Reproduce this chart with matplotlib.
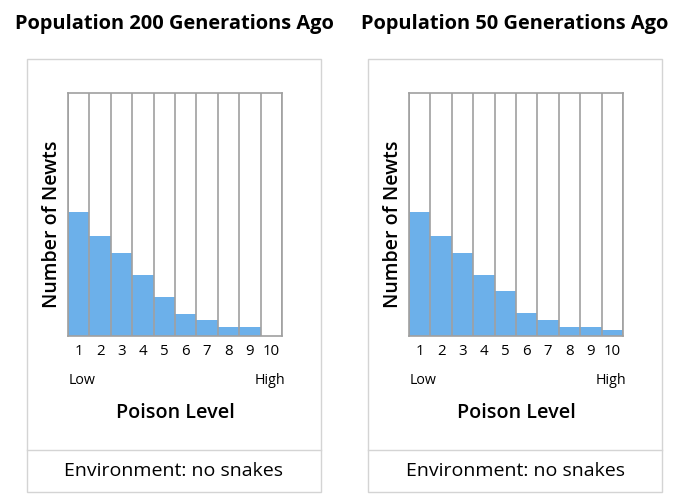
import matplotlib
matplotlib.use("Agg")
import matplotlib.pyplot as plt
from matplotlib.patches import Rectangle
from matplotlib.lines import Line2D

plt.rcParams['font.family'] = ['Open Sans', 'DejaVu Sans']

levels = [1, 2, 3, 4, 5, 6, 7, 8, 9, 10]
newts_200 = [51, 41, 34, 25, 16, 9, 6.5, 3.8, 3.6, 0]
newts_50 = [51, 41, 34, 25, 18.5, 9.3, 6.6, 3.7, 3.7, 2.5]
titles = ["Population 200 Generations Ago", "Population 50 Generations Ago"]
series = [newts_200, newts_50]
env_label = "Environment: no snakes"

W, H = 678, 500
fig = plt.figure(figsize=(W / 100, H / 100), dpi=100)

bar_color = '#6cb0ea'
edge = '#a0a0a0'
box_col = '#d4d4d4'

def fx(px):
    return px / W

def fy(py):
    return 1 - py / H

box_left = [27, 368]
box_w = 294
plot_left = [68, 409]

for i in range(2):
    bl = box_left[i]
    cx = bl + box_w / 2
    # outer box
    fig.patches.append(Rectangle((fx(bl), fy(492)), box_w / W, (492 - 59) / H,
                                 transform=fig.transFigure, fill=False,
                                 edgecolor=box_col, lw=1))
    fig.lines.append(Line2D([fx(bl), fx(bl + box_w)], [fy(450), fy(450)],
                            transform=fig.transFigure, color=box_col, lw=1))
    fig.text(fx(cx), fy(24), titles[i], ha='center', va='center',
             fontsize=14.4, fontweight='bold')

    ax = fig.add_axes([fx(plot_left[i]), fy(336), 214 / W, 243 / H])
    ax.bar(levels, series[i], width=1, color=bar_color, edgecolor='none')
    for b in range(11):
        ax.axvline(0.5 + b, color=edge, lw=1.2)
    ax.set_xlim(0.5, 10.5)
    ax.set_ylim(0, 100)
    for s in ax.spines.values():
        s.set_color(edge)
        s.set_linewidth(1.2)
    ax.set_yticks([])
    ax.set_xticks(levels)
    ax.set_xticklabels([str(v) for v in levels], fontsize=10.8)
    ax.tick_params(axis='x', length=0, pad=6)

    pl = plot_left[i]
    fig.text(fx(pl + 1), fy(381), "Low", ha='left', va='center', fontsize=10.3)
    fig.text(fx(pl + 217), fy(381), "High", ha='right', va='center', fontsize=10.3)
    fig.text(fx(pl + 107), fy(413), "Poison Level", ha='center', va='center',
             fontsize=14.2, fontweight='semibold')
    fig.text(fx(pl - 16), fy(224), "Number of Newts", ha='center', va='center',
             rotation=90, fontsize=14, fontweight='semibold')
    fig.text(fx(cx), fy(471), env_label, ha='center', va='center', fontsize=14)

fig.savefig("out.png", dpi=100)
